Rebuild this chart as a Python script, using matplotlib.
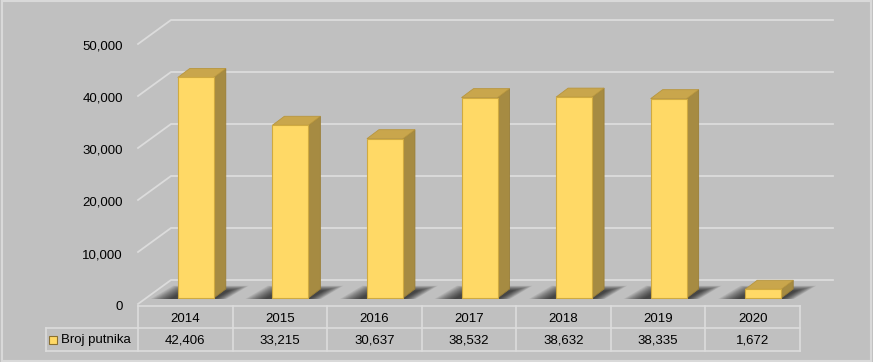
import matplotlib.pyplot as plt
from matplotlib.patches import Polygon, Rectangle

years = ["2014", "2015", "2016", "2017", "2018", "2019", "2020"]
putnici = [42406, 33215, 30637, 38532, 38632, 38335, 1672]
series_name = "Broj putnika"
yticks = [0, 10000, 20000, 30000, 40000, 50000]

BG = "#c0c0c0"
GRID = "#dcdcdc"
FRONT = "#ffd966"
SIDE = "#a68b42"
TOP = "#c9a64c"
EDGE = "#d0aa40"

W, H = 873, 362
fig = plt.figure(figsize=(W / 100, H / 100), dpi=100, facecolor=BG)
plt.rcParams['font.family'] = ['Liberation Sans', 'DejaVu Sans']

# front plane of the plot, in pixels
left, right, base, top = 138, 800, 304, 44
ax = fig.add_axes([left / W, (H - base) / H, (right - left) / W, (base - top) / H])
ax.set_xlim(-0.5, len(years) - 0.5)
ax.set_ylim(0, 50000)
ax.axis("off")

# pixel -> data unit helpers
px = len(years) / (right - left)
py = 50000 / (base - top)

# depth of the box
DX, DY = 33 * px, 24 * py
x_lo, x_hi = -0.5, len(years) - 0.5

# walls / gridlines
for v in yticks:
    ax.plot([x_lo, x_lo + DX, x_hi + DX], [v, v + DY, v + DY],
            color=GRID, lw=1.3, clip_on=False, zorder=1)
    ax.text(x_lo - 15 * px, v - 3 * py, f"{v:,}", ha="right", va="center",
            fontsize=9.5, color="black")

# bars
bw = 36 * px
shift = 10.5 * px
bb = 6 * py
bdx, bdy = 12 * px, 9 * py
for i, v in enumerate(putnici):
    x0 = i - bw / 2 + shift
    # soft shadow on the floor, darker towards the bar
    n = 14
    for k in range(n):
        g = (n - k) * 1.5
        yb = bb - 1 * py
        yt = bb + (7 + g * 0.25) * py
        pts = [(x0 - (6 + g) * px, yb),
               (x0 + bw + (g * 0.6) * px, yb),
               (x0 + bw + (14 + g) * px, yt),
               (x0 + (8 - g * 0.6) * px, yt)]
        ax.add_patch(Polygon(pts, closed=True, facecolor="black", alpha=0.065,
                             lw=0, clip_on=False, zorder=2))
    ax.add_patch(Polygon([(x0 + bw, bb), (x0 + bw + bdx, bb + bdy),
                          (x0 + bw + bdx, bb + v + bdy), (x0 + bw, bb + v)],
                         closed=True, facecolor=SIDE, edgecolor="#9a7e36",
                         lw=0.6, clip_on=False, zorder=3))
    ax.add_patch(Polygon([(x0, bb + v), (x0 + bw, bb + v),
                          (x0 + bw + bdx, bb + v + bdy), (x0 + bdx, bb + v + bdy)],
                         closed=True, facecolor=TOP, edgecolor="#b8963e",
                         lw=0.6, clip_on=False, zorder=3))
    ax.add_patch(Rectangle((x0, bb), bw, v, facecolor=FRONT, edgecolor=EDGE,
                           lw=0.8, clip_on=False, zorder=4))

# data table under the plot
r1, r2, r3 = -2 * py, -24 * py, -47 * py
leg_l = x_lo - 92 * px
tl = dict(color=GRID, lw=1.2, clip_on=False, zorder=1)
ax.plot([x_lo, x_hi], [r1, r1], **tl)
ax.plot([leg_l, x_hi], [r2, r2], **tl)
ax.plot([leg_l, x_hi], [r3, r3], **tl)
ax.plot([leg_l, leg_l], [r2, r3], **tl)
for j in range(len(years) + 1):
    xx = x_lo + j
    ax.plot([xx, xx], [r1, r3], **tl)
for i, (yr, v) in enumerate(zip(years, putnici)):
    ax.text(i, (r1 + r2) / 2 - 2 * py, yr, ha="center", va="center", fontsize=9.5)
    ax.text(i, (r2 + r3) / 2 - 1 * py, f"{v:,}", ha="center", va="center",
            fontsize=9.5)
ax.add_patch(Rectangle((leg_l + 3 * px, (r2 + r3) / 2 - 4 * py), 8 * px, 8 * py,
                       facecolor=FRONT, edgecolor="#8a7030", lw=0.8, clip_on=False))
ax.text(leg_l + 15 * px, (r2 + r3) / 2 - 1 * py, series_name, ha="left",
        va="center", fontsize=9.5)

# light outer border
fig.add_artist(Rectangle((0.002, 0.004), 0.996, 0.992, transform=fig.transFigure,
                         fill=False, edgecolor="#d9d9d9", lw=1.5))

fig.savefig("out.png", dpi=100, facecolor=BG)
